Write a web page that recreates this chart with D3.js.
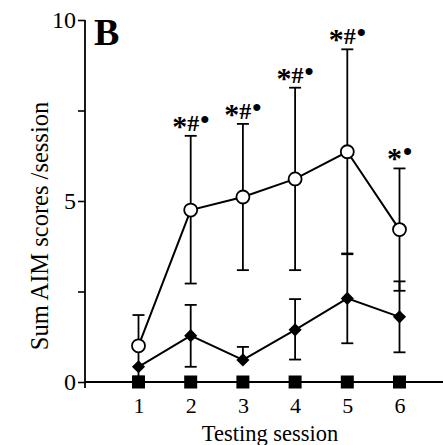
<!DOCTYPE html>
<html>
<head>
<meta charset="utf-8">
<script src="https://cdn.jsdelivr.net/npm/d3@7"></script>
<style>
  html, body { margin: 0; padding: 0; background: #fff; }
  svg { display: block; }
  text { font-family: "Liberation Serif", "Times New Roman", serif; fill: #000; }
</style>
</head>
<body>
<svg id="chart" width="443" height="445"></svg>
<script>
// ---- data ----
const sessions = [1, 2, 3, 4, 5, 6];
const yTicks = [0, 2.5, 5, 7.5, 10];
const yTickLabels = ["0", "", "5", "", "10"];

const circleMean  = [1.00, 4.75, 5.11, 5.61, 6.36, 4.21];
const circleUpper = [1.85, 6.80, 7.13, 8.13, 9.19, 5.90];
const circleLower = [0.15, 2.72, 3.09, 3.09, 3.53, 2.52];

const diamondMean  = [0.42, 1.28, 0.61, 1.44, 2.31, 1.80];
const diamondUpper = [0.42, 2.13, 0.97, 2.29, 3.55, 2.78];
const diamondLower = [0.42, 0.42, 0.61, 0.62, 1.07, 0.82];

const squareMean = [0, 0, 0, 0, 0, 0];

const annStar = ["", "*", "*", "*", "*", "*"];
const annHash = ["", "#", "#", "#", "#", ""];
const annDot  = ["", "•", "•", "•", "•", "•"];

const panelLabel = "B";
const xTitle = "Testing session";
const yTitle = "Sum AIM scores /session";

// ---- layout ----
const svg = d3.select("#chart");
const axisX = 85, axisY = 382;
const x = d3.scaleLinear().domain([1, 6]).range([138.5, 399.5]);
const y = d3.scaleLinear().domain([0, 10]).range([382, 20]);

// y axis
const yAxis = d3.axisLeft(y)
  .tickValues(yTicks)
  .tickFormat((d, i) => yTickLabels[i])
  .tickSize(7)
  .tickPadding(2);
const gy = svg.append("g").attr("transform", `translate(${axisX},0)`).call(yAxis);
gy.select(".domain").remove();
gy.selectAll(".tick line").attr("stroke", "#000").attr("stroke-width", 1.6);
gy.selectAll(".tick text").attr("font-size", 24).attr("font-family", "Liberation Serif");
gy.append("line").attr("x1", 0).attr("x2", 0).attr("y1", y(10)).attr("y2", axisY + 6)
  .attr("stroke", "#000").attr("stroke-width", 1.8);

// x axis
const xAxis = d3.axisBottom(x).tickValues(sessions).tickSize(0).tickPadding(15).tickFormat(d3.format("d"));
const gx = svg.append("g").attr("transform", `translate(0,${axisY})`).call(xAxis);
gx.select(".domain").remove();
gx.selectAll(".tick text").attr("font-size", 22).attr("font-family", "Liberation Serif");
gx.append("line").attr("x1", axisX).attr("x2", 443).attr("y1", 0).attr("y2", 0)
  .attr("stroke", "#000").attr("stroke-width", 1.8);

// titles
svg.append("text").attr("x", 270).attr("y", 441).attr("text-anchor", "middle")
  .attr("font-size", 22.5).text(xTitle);
svg.append("text").attr("transform", `translate(48,226) rotate(-90)`).attr("text-anchor", "middle")
  .attr("font-size", 24.5).text(yTitle);
svg.append("text").attr("x", 94).attr("y", 45).attr("font-size", 38).attr("font-weight", "bold")
  .text(panelLabel);

// error bars
const capW = 6;
function errorBars(upper, lower, mean) {
  const g = svg.append("g").attr("stroke", "#000").attr("stroke-width", 1.8).attr("fill", "none");
  sessions.forEach((s, i) => {
    if (upper[i] > mean[i]) {
      g.append("line").attr("x1", x(s)).attr("x2", x(s)).attr("y1", y(mean[i])).attr("y2", y(upper[i]));
      g.append("line").attr("x1", x(s) - capW).attr("x2", x(s) + capW).attr("y1", y(upper[i])).attr("y2", y(upper[i]));
    }
    if (lower[i] < mean[i]) {
      g.append("line").attr("x1", x(s)).attr("x2", x(s)).attr("y1", y(mean[i])).attr("y2", y(lower[i]));
      g.append("line").attr("x1", x(s) - capW).attr("x2", x(s) + capW).attr("y1", y(lower[i])).attr("y2", y(lower[i]));
    }
  });
}
errorBars(circleUpper, circleLower, circleMean);
errorBars(diamondUpper, diamondLower, diamondMean);

// lines
const line = d3.line().x((d, i) => x(sessions[i])).y(d => y(d));
[circleMean, diamondMean, squareMean].forEach(arr => {
  svg.append("path").datum(arr).attr("d", line).attr("fill", "none")
    .attr("stroke", "#000").attr("stroke-width", 2);
});

// markers
svg.append("g").selectAll("rect").data(squareMean).join("rect")
  .attr("x", (d, i) => x(sessions[i]) - 6.5).attr("y", d => y(d) - 6.5)
  .attr("width", 13).attr("height", 13).attr("fill", "#000");

const diamond = d3.symbol().type(d3.symbolSquare).size(86);
svg.append("g").selectAll("path").data(diamondMean).join("path")
  .attr("d", diamond)
  .attr("transform", (d, i) => `translate(${x(sessions[i])},${y(d)}) rotate(45)`)
  .attr("fill", "#000");

svg.append("g").selectAll("circle").data(circleMean).join("circle")
  .attr("cx", (d, i) => x(sessions[i])).attr("cy", d => y(d)).attr("r", 6.5)
  .attr("fill", "#fff").attr("stroke", "#000").attr("stroke-width", 1.8);

// significance annotations
sessions.forEach((s, i) => {
  if (!annStar[i]) return;
  const t = svg.append("text").attr("x", x(s)).attr("y", y(circleUpper[i]) - 5)
    .attr("text-anchor", "middle").attr("font-weight", "bold");
  t.append("tspan").attr("font-size", 30).attr("dy", 5).text(annStar[i]);
  if (annHash[i]) t.append("tspan").attr("font-size", 24).attr("dy", -5).text(annHash[i]);
  t.append("tspan").attr("font-size", 26).attr("dx", 1).attr("dy", annHash[i] ? -3 : -8).text(annDot[i]);
});
</script>
</body>
</html>
